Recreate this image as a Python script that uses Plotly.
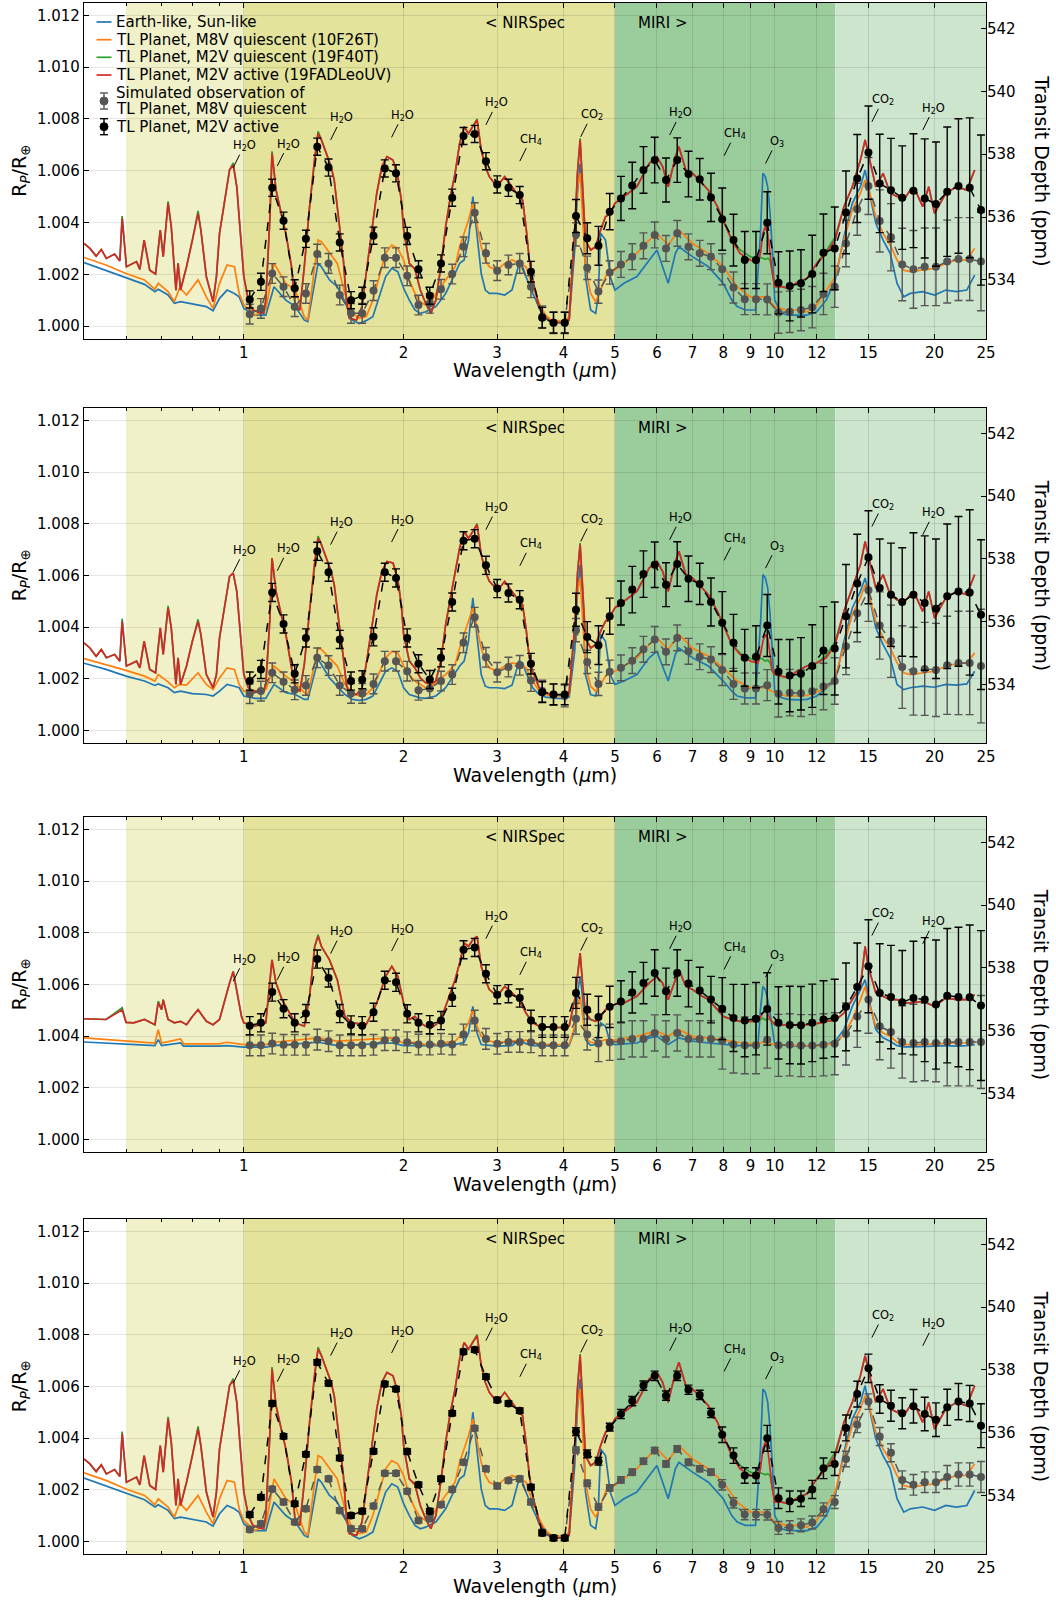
import numpy as np
import plotly.graph_objects as go

# ---------------- observation bins (µm) ----------------
OBS_WL = [1.026, 1.077, 1.131, 1.188, 1.247, 1.309, 1.375, 1.444, 1.516, 1.592,
          1.671, 1.755, 1.843, 1.935, 2.031, 2.133, 2.240, 2.352, 2.469, 2.593,
          2.722, 2.858, 3.001, 3.151, 3.309, 3.474, 3.648, 3.831, 4.022, 4.223,
          4.434, 4.656, 4.889, 5.133, 5.390, 5.659, 5.942, 6.240, 6.551, 6.879,
          7.223, 7.584, 7.963, 8.362, 8.780, 9.219, 9.680, 10.164, 10.672, 11.205,
          11.766, 12.354, 12.972, 13.620, 14.301, 15.016, 15.767, 16.555, 17.383, 18.252,
          19.165, 20.123, 21.129, 22.186, 23.295, 24.460]

# ---------------- model spectra: clear case (panels 1 and 4) ----------------
WL_RED_A = [0.500, 0.513, 0.527, 0.539, 0.551, 0.571, 0.584, 0.590, 0.601, 0.628,
            0.637, 0.649, 0.665, 0.682, 0.696, 0.705, 0.720, 0.730, 0.745, 0.752,
            0.760, 0.780, 0.800, 0.820, 0.830, 0.850, 0.875, 0.888, 0.900, 0.920,
            0.940, 0.955, 0.970, 0.983, 1.000, 1.020, 1.040, 1.070, 1.090, 1.100,
            1.120, 1.130, 1.150, 1.180, 1.200, 1.230, 1.250, 1.275, 1.300, 1.330,
            1.360, 1.380, 1.400, 1.430, 1.460, 1.480, 1.500, 1.540, 1.560, 1.580,
            1.630, 1.670, 1.700, 1.740, 1.780, 1.820, 1.860, 1.910, 1.950, 1.980,
            2.000, 2.050, 2.100, 2.150, 2.200, 2.250, 2.300, 2.350, 2.400, 2.450,
            2.500, 2.550, 2.600, 2.650, 2.700, 2.750, 2.800, 2.850, 2.900, 3.000,
            3.050, 3.100, 3.200, 3.300, 3.350, 3.400, 3.450, 3.500, 3.600, 3.700,
            3.800, 3.900, 4.000, 4.100, 4.200, 4.250, 4.300, 4.350, 4.400, 4.500,
            4.600, 4.700, 4.800, 4.900, 5.000, 5.200, 5.500, 5.800, 6.000, 6.150,
            6.300, 6.500, 6.600, 6.800, 7.000, 7.300, 7.500, 7.800, 8.000, 8.300,
            8.600, 9.000, 9.300, 9.400, 9.500, 9.600, 9.700, 9.800, 9.900, 10.0,
            10.3, 10.6, 11.0, 11.5, 12.0, 12.5, 13.0, 13.5, 14.0, 14.5,
            14.8, 15.0, 15.5, 16.0, 16.5, 17.0, 17.5, 18.0, 18.5, 19.0,
            19.5, 20.0, 21.0, 22.0, 23.0, 23.8]

RED_A = [1.00319, 1.00300, 1.00270, 1.00296, 1.00261, 1.00278, 1.00251, 1.00416, 1.00229, 1.00249,
         1.00219, 1.00332, 1.00216, 1.00201, 1.00371, 1.00268, 1.00474, 1.00384, 1.00139, 1.00242,
         1.00139, 1.00229, 1.00332, 1.00435, 1.00371, 1.00191, 1.00094, 1.00191, 1.00358, 1.00487,
         1.00603, 1.00622, 1.00538, 1.00384, 1.00191, 1.00100, 1.00062, 1.00052, 1.00049, 1.00100,
         1.00422, 1.00667, 1.00525, 1.00422, 1.00358, 1.00229, 1.00075, 1.00062, 1.00229, 1.00461,
         1.00654, 1.00744, 1.00719, 1.00667, 1.00616, 1.00564, 1.00461, 1.00255, 1.00100, 1.00030,
         1.00023, 1.00075, 1.00203, 1.00358, 1.00513, 1.00616, 1.00654, 1.00641, 1.00577, 1.00487,
         1.00372, 1.00242, 1.00220, 1.00139, 1.00088, 1.00049, 1.00100, 1.00229, 1.00384, 1.00500,
         1.00590, 1.00706, 1.00770, 1.00744, 1.00770, 1.00796, 1.00680, 1.00616, 1.00577, 1.00538,
         1.00558, 1.00577, 1.00538, 1.00500, 1.00487, 1.00384, 1.00255, 1.00178, 1.00075, 1.00030,
         1.00017, 1.00013, 1.00013, 1.00023, 1.00371, 1.00590, 1.00719, 1.00538, 1.00332, 1.00294,
         1.00306, 1.00371, 1.00422, 1.00435, 1.00474, 1.00500, 1.00538, 1.00628, 1.00654, 1.00616,
         1.00538, 1.00654, 1.00693, 1.00603, 1.00590, 1.00551, 1.00525, 1.00461, 1.00410, 1.00332,
         1.00281, 1.00255, 1.00242, 1.00281, 1.00358, 1.00384, 1.00358, 1.00281, 1.00203, 1.00152,
         1.00152, 1.00146, 1.00167, 1.00184, 1.00242, 1.00281, 1.00332, 1.00461, 1.00538, 1.00641,
         1.00719, 1.00667, 1.00538, 1.00590, 1.00513, 1.00500, 1.00487, 1.00525, 1.00513, 1.00461,
         1.00538, 1.00435, 1.00513, 1.00538, 1.00525, 1.00603]

GREEN_A = [1.00319, 1.00300, 1.00270, 1.00296, 1.00261, 1.00278, 1.00251, 1.00425, 1.00229, 1.00249,
           1.00219, 1.00332, 1.00216, 1.00201, 1.00371, 1.00268, 1.00482, 1.00384, 1.00139, 1.00242,
           1.00139, 1.00229, 1.00332, 1.00445, 1.00371, 1.00191, 1.00094, 1.00191, 1.00358, 1.00487,
           1.00603, 1.00630, 1.00538, 1.00384, 1.00191, 1.00100, 1.00062, 1.00052, 1.00049, 1.00100,
           1.00422, 1.00675, 1.00525, 1.00422, 1.00358, 1.00229, 1.00075, 1.00062, 1.00229, 1.00461,
           1.00654, 1.00752, 1.00719, 1.00667, 1.00616, 1.00564, 1.00461, 1.00255, 1.00100, 1.00030,
           1.00023, 1.00075, 1.00203, 1.00358, 1.00513, 1.00616, 1.00654, 1.00641, 1.00577, 1.00487,
           1.00372, 1.00242, 1.00220, 1.00139, 1.00088, 1.00049, 1.00100, 1.00229, 1.00384, 1.00500,
           1.00590, 1.00706, 1.00770, 1.00744, 1.00770, 1.00800, 1.00680, 1.00616, 1.00577, 1.00538,
           1.00558, 1.00577, 1.00538, 1.00500, 1.00487, 1.00384, 1.00255, 1.00178, 1.00075, 1.00030,
           1.00017, 1.00013, 1.00013, 1.00023, 1.00371, 1.00590, 1.00725, 1.00538, 1.00332, 1.00294,
           1.00306, 1.00371, 1.00422, 1.00435, 1.00474, 1.00500, 1.00538, 1.00628, 1.00654, 1.00616,
           1.00538, 1.00654, 1.00693, 1.00603, 1.00590, 1.00551, 1.00525, 1.00461, 1.00410, 1.00332,
           1.00295, 1.00268, 1.00258, 1.00265, 1.00262, 1.00258, 1.00262, 1.00255, 1.00203, 1.00152,
           1.00152, 1.00146, 1.00167, 1.00184, 1.00242, 1.00290, 1.00345, 1.00461, 1.00538, 1.00641,
           1.00719, 1.00667, 1.00538, 1.00590, 1.00513, 1.00500, 1.00487, 1.00525, 1.00513, 1.00461,
           1.00538, 1.00435, 1.00513, 1.00538, 1.00525, 1.00603]

WL_ORANGE_A = [0.500, 0.550, 0.600, 0.650, 0.680, 0.690, 0.720, 0.740, 0.757, 0.780,
               0.820, 0.850, 0.875, 0.900, 0.930, 0.960, 0.980, 1.000, 1.050, 1.100,
               1.140, 1.200, 1.250, 1.300, 1.320, 1.380, 1.400, 1.450, 1.500, 1.550,
               1.600, 1.650, 1.700, 1.750, 1.850, 1.900, 1.950, 2.000, 2.050, 2.100,
               2.150, 2.200, 2.250, 2.300, 2.350, 2.400, 2.450, 2.500, 2.550, 2.600,
               2.650, 2.700, 2.750, 2.800, 2.850, 2.900, 3.000, 3.100, 3.200, 3.300,
               3.400, 3.500, 3.600, 3.700, 3.800, 3.900, 4.000, 4.100, 4.200, 4.250,
               4.300, 4.350, 4.400, 4.500, 4.600, 4.700, 4.800, 4.900, 5.000, 5.200,
               5.500, 5.800, 6.000, 6.300, 6.600, 7.000, 7.500, 8.000, 8.500, 9.000,
               9.600, 10.0, 10.5, 11.0, 11.5, 12.0, 12.5, 13.0, 13.5, 14.0,
               14.5, 14.8, 15.0, 15.5, 16.0, 16.5, 17.0, 17.5, 18.0, 19.0,
               20.0, 21.0, 22.0, 23.0, 23.8]

ORANGE_A = [1.00265, 1.00236, 1.00203, 1.00178, 1.00142, 1.00165, 1.00133, 1.00094, 1.00149, 1.00120,
            1.00178, 1.00113, 1.00068, 1.00165, 1.00236, 1.00229, 1.00126, 1.00081, 1.00042, 1.00062,
            1.00242, 1.00165, 1.00139, 1.00036, 1.00023, 1.00332, 1.00326, 1.00281, 1.00242, 1.00126,
            1.00049, 1.00030, 1.00036, 1.00100, 1.00281, 1.00313, 1.00300, 1.00255, 1.00178, 1.00126,
            1.00094, 1.00081, 1.00088, 1.00126, 1.00152, 1.00178, 1.00203, 1.00229, 1.00306, 1.00358,
            1.00410, 1.00474, 1.00384, 1.00306, 1.00255, 1.00229, 1.00216, 1.00242, 1.00255, 1.00242,
            1.00229, 1.00152, 1.00088, 1.00042, 1.00023, 1.00021, 1.00017, 1.00036, 1.00384, 1.00538,
            1.00590, 1.00422, 1.00229, 1.00126, 1.00094, 1.00139, 1.00191, 1.00210, 1.00216, 1.00242,
            1.00281, 1.00332, 1.00358, 1.00313, 1.00371, 1.00319, 1.00281, 1.00229, 1.00152, 1.00113,
            1.00113, 1.00075, 1.00062, 1.00062, 1.00055, 1.00081, 1.00139, 1.00191, 1.00332, 1.00448,
            1.00513, 1.00564, 1.00538, 1.00422, 1.00358, 1.00313, 1.00255, 1.00216, 1.00210, 1.00216,
            1.00223, 1.00242, 1.00255, 1.00255, 1.00300]

WL_BLUE_A = [0.500, 0.550, 0.600, 0.650, 0.680, 0.690, 0.720, 0.740, 0.760, 0.800,
             0.850, 0.875, 0.900, 0.930, 0.960, 0.980, 1.000, 1.050, 1.100, 1.140,
             1.200, 1.250, 1.300, 1.320, 1.380, 1.400, 1.450, 1.500, 1.550, 1.600,
             1.650, 1.700, 1.750, 1.850, 1.900, 1.950, 2.000, 2.050, 2.100, 2.150,
             2.200, 2.300, 2.400, 2.500, 2.550, 2.600, 2.650, 2.700, 2.750, 2.800,
             2.850, 2.900, 3.000, 3.100, 3.200, 3.300, 3.350, 3.400, 3.500, 3.600,
             3.700, 3.800, 3.900, 4.000, 4.100, 4.200, 4.250, 4.300, 4.350, 4.400,
             4.500, 4.600, 4.650, 4.700, 4.800, 4.900, 5.000, 5.200, 5.500, 5.800,
             6.000, 6.300, 6.500, 6.600, 7.000, 7.500, 8.000, 8.300, 8.500, 8.800,
             9.200, 9.400, 9.500, 9.600, 9.700, 9.800, 9.900, 10.0, 10.3, 10.6,
             11.0, 11.5, 12.0, 12.5, 13.0, 13.5, 14.0, 14.5, 14.8, 15.0,
             15.5, 16.0, 16.5, 17.0, 17.5, 18.0, 19.0, 20.0, 21.0, 22.0,
             23.0, 23.8]

BLUE_A = [1.00245, 1.00214, 1.00184, 1.00161, 1.00133, 1.00142, 1.00120, 1.00088, 1.00094, 1.00085,
          1.00075, 1.00059, 1.00107, 1.00139, 1.00126, 1.00113, 1.00068, 1.00042, 1.00042, 1.00152,
          1.00100, 1.00075, 1.00023, 1.00017, 1.00242, 1.00229, 1.00178, 1.00152, 1.00094, 1.00023,
          1.00010, 1.00021, 1.00036, 1.00191, 1.00223, 1.00210, 1.00146, 1.00100, 1.00062, 1.00049,
          1.00055, 1.00075, 1.00126, 1.00203, 1.00242, 1.00255, 1.00332, 1.00500, 1.00358, 1.00203,
          1.00139, 1.00126, 1.00126, 1.00120, 1.00139, 1.00242, 1.00229, 1.00191, 1.00126, 1.00075,
          1.00036, 1.00021, 1.00015, 1.00013, 1.00023, 1.00294, 1.00513, 1.00628, 1.00487, 1.00191,
          1.00062, 1.00049, 1.00113, 1.00358, 1.00332, 1.00191, 1.00139, 1.00165, 1.00191, 1.00255,
          1.00294, 1.00165, 1.00281, 1.00306, 1.00268, 1.00229, 1.00165, 1.00100, 1.00075, 1.00062,
          1.00062, 1.00358, 1.00590, 1.00577, 1.00538, 1.00435, 1.00294, 1.00100, 1.00049, 1.00042,
          1.00041, 1.00042, 1.00055, 1.00100, 1.00178, 1.00345, 1.00474, 1.00538, 1.00603, 1.00538,
          1.00397, 1.00332, 1.00281, 1.00165, 1.00113, 1.00126, 1.00133, 1.00120, 1.00139, 1.00133,
          1.00139, 1.00197]

# ---------------- model spectra: panel 2 ----------------
RED_B = [1.00339, 1.00319, 1.00287, 1.00313, 1.00281, 1.00294, 1.00268, 1.00422, 1.00249, 1.00268,
         1.00242, 1.00345, 1.00236, 1.00223, 1.00397, 1.00294, 1.00474, 1.00397, 1.00178, 1.00281,
         1.00178, 1.00249, 1.00345, 1.00422, 1.00371, 1.00216, 1.00165, 1.00216, 1.00358, 1.00474,
         1.00596, 1.00609, 1.00538, 1.00397, 1.00216, 1.00165, 1.00152, 1.00152, 1.00152, 1.00178,
         1.00435, 1.00667, 1.00538, 1.00435, 1.00371, 1.00242, 1.00165, 1.00152, 1.00255, 1.00461,
         1.00654, 1.00744, 1.00719, 1.00667, 1.00616, 1.00564, 1.00474, 1.00281, 1.00178, 1.00139,
         1.00139, 1.00165, 1.00255, 1.00384, 1.00525, 1.00616, 1.00654, 1.00648, 1.00583, 1.00487,
         1.00371, 1.00268, 1.00242, 1.00203, 1.00184, 1.00178, 1.00191, 1.00268, 1.00410, 1.00513,
         1.00603, 1.00706, 1.00770, 1.00744, 1.00770, 1.00796, 1.00680, 1.00616, 1.00577, 1.00545,
         1.00558, 1.00577, 1.00538, 1.00500, 1.00487, 1.00397, 1.00281, 1.00229, 1.00165, 1.00146,
         1.00139, 1.00137, 1.00139, 1.00146, 1.00397, 1.00603, 1.00719, 1.00551, 1.00358, 1.00319,
         1.00332, 1.00384, 1.00422, 1.00442, 1.00474, 1.00500, 1.00538, 1.00628, 1.00654, 1.00616,
         1.00538, 1.00654, 1.00693, 1.00603, 1.00590, 1.00551, 1.00525, 1.00461, 1.00410, 1.00332,
         1.00294, 1.00268, 1.00261, 1.00294, 1.00345, 1.00371, 1.00358, 1.00281, 1.00229, 1.00216,
         1.00210, 1.00203, 1.00229, 1.00249, 1.00261, 1.00281, 1.00332, 1.00461, 1.00551, 1.00641,
         1.00731, 1.00680, 1.00551, 1.00603, 1.00525, 1.00506, 1.00493, 1.00525, 1.00513, 1.00461,
         1.00538, 1.00435, 1.00513, 1.00538, 1.00525, 1.00603]

GREEN_B = [1.00339, 1.00319, 1.00287, 1.00313, 1.00281, 1.00294, 1.00268, 1.00432, 1.00249, 1.00268,
           1.00242, 1.00345, 1.00236, 1.00223, 1.00397, 1.00294, 1.00482, 1.00397, 1.00178, 1.00281,
           1.00178, 1.00249, 1.00345, 1.00430, 1.00371, 1.00216, 1.00165, 1.00216, 1.00358, 1.00474,
           1.00596, 1.00609, 1.00538, 1.00397, 1.00216, 1.00165, 1.00152, 1.00152, 1.00152, 1.00178,
           1.00435, 1.00667, 1.00538, 1.00435, 1.00371, 1.00242, 1.00165, 1.00152, 1.00255, 1.00461,
           1.00654, 1.00752, 1.00719, 1.00667, 1.00616, 1.00564, 1.00474, 1.00281, 1.00178, 1.00139,
           1.00139, 1.00165, 1.00255, 1.00384, 1.00525, 1.00616, 1.00654, 1.00648, 1.00583, 1.00487,
           1.00371, 1.00268, 1.00242, 1.00203, 1.00184, 1.00178, 1.00191, 1.00268, 1.00410, 1.00513,
           1.00603, 1.00706, 1.00770, 1.00744, 1.00770, 1.00800, 1.00680, 1.00616, 1.00577, 1.00545,
           1.00558, 1.00577, 1.00538, 1.00500, 1.00487, 1.00397, 1.00281, 1.00229, 1.00165, 1.00146,
           1.00139, 1.00137, 1.00139, 1.00146, 1.00397, 1.00603, 1.00725, 1.00551, 1.00358, 1.00319,
           1.00332, 1.00384, 1.00422, 1.00442, 1.00474, 1.00500, 1.00538, 1.00628, 1.00654, 1.00616,
           1.00538, 1.00654, 1.00693, 1.00603, 1.00590, 1.00551, 1.00525, 1.00461, 1.00410, 1.00332,
           1.00300, 1.00278, 1.00270, 1.00280, 1.00275, 1.00268, 1.00272, 1.00262, 1.00229, 1.00216,
           1.00210, 1.00203, 1.00229, 1.00249, 1.00261, 1.00290, 1.00345, 1.00461, 1.00551, 1.00641,
           1.00731, 1.00680, 1.00551, 1.00603, 1.00525, 1.00506, 1.00493, 1.00525, 1.00513, 1.00461,
           1.00538, 1.00435, 1.00513, 1.00538, 1.00525, 1.00603]

ORANGE_B = [1.00278, 1.00255, 1.00232, 1.00210, 1.00191, 1.00216, 1.00188, 1.00165, 1.00178, 1.00175,
            1.00223, 1.00178, 1.00158, 1.00203, 1.00242, 1.00236, 1.00178, 1.00152, 1.00146, 1.00158,
            1.00249, 1.00210, 1.00184, 1.00146, 1.00139, 1.00319, 1.00313, 1.00281, 1.00249, 1.00178,
            1.00146, 1.00133, 1.00139, 1.00165, 1.00281, 1.00306, 1.00300, 1.00249, 1.00216, 1.00191,
            1.00178, 1.00165, 1.00165, 1.00184, 1.00203, 1.00216, 1.00236, 1.00255, 1.00319, 1.00371,
            1.00422, 1.00474, 1.00397, 1.00319, 1.00268, 1.00242, 1.00229, 1.00249, 1.00261, 1.00255,
            1.00242, 1.00191, 1.00152, 1.00139, 1.00133, 1.00133, 1.00133, 1.00139, 1.00397, 1.00538,
            1.00590, 1.00435, 1.00255, 1.00171, 1.00152, 1.00178, 1.00210, 1.00223, 1.00229, 1.00249,
            1.00281, 1.00332, 1.00358, 1.00313, 1.00371, 1.00319, 1.00287, 1.00242, 1.00191, 1.00165,
            1.00165, 1.00146, 1.00133, 1.00133, 1.00135, 1.00149, 1.00165, 1.00203, 1.00332, 1.00448,
            1.00513, 1.00564, 1.00538, 1.00422, 1.00358, 1.00319, 1.00261, 1.00223, 1.00216, 1.00223,
            1.00229, 1.00249, 1.00258, 1.00261, 1.00300]

BLUE_B = [1.00260, 1.00236, 1.00210, 1.00191, 1.00174, 1.00180, 1.00165, 1.00146, 1.00152, 1.00142,
          1.00139, 1.00133, 1.00152, 1.00178, 1.00171, 1.00165, 1.00133, 1.00124, 1.00124, 1.00178,
          1.00146, 1.00139, 1.00120, 1.00120, 1.00274, 1.00255, 1.00203, 1.00171, 1.00139, 1.00120,
          1.00116, 1.00120, 1.00133, 1.00229, 1.00242, 1.00229, 1.00165, 1.00139, 1.00133, 1.00126,
          1.00124, 1.00133, 1.00165, 1.00223, 1.00249, 1.00268, 1.00345, 1.00513, 1.00371, 1.00216,
          1.00171, 1.00165, 1.00165, 1.00162, 1.00175, 1.00268, 1.00261, 1.00223, 1.00165, 1.00139,
          1.00129, 1.00126, 1.00124, 1.00124, 1.00129, 1.00306, 1.00525, 1.00641, 1.00500, 1.00216,
          1.00139, 1.00133, 1.00178, 1.00371, 1.00345, 1.00216, 1.00178, 1.00191, 1.00216, 1.00281,
          1.00306, 1.00191, 1.00294, 1.00319, 1.00281, 1.00249, 1.00191, 1.00152, 1.00133, 1.00126,
          1.00126, 1.00410, 1.00603, 1.00590, 1.00551, 1.00448, 1.00319, 1.00152, 1.00126, 1.00120,
          1.00118, 1.00120, 1.00133, 1.00165, 1.00191, 1.00345, 1.00474, 1.00538, 1.00590, 1.00538,
          1.00397, 1.00332, 1.00281, 1.00178, 1.00158, 1.00165, 1.00171, 1.00167, 1.00178, 1.00175,
          1.00180, 1.00229]

# ---------------- model spectra: panel 3 ----------------
WL_RED_C = [0.500, 0.550, 0.590, 0.600, 0.620, 0.650, 0.680, 0.690, 0.700, 0.705,
            0.720, 0.740, 0.760, 0.780, 0.800, 0.820, 0.850, 0.875, 0.900, 0.920,
            0.940, 0.955, 0.970, 0.990, 1.000, 1.050, 1.100, 1.130, 1.150, 1.180,
            1.200, 1.250, 1.300, 1.330, 1.360, 1.380, 1.400, 1.450, 1.500, 1.550,
            1.600, 1.700, 1.780, 1.850, 1.900, 1.950, 2.000, 2.050, 2.100, 2.150,
            2.200, 2.250, 2.300, 2.350, 2.400, 2.450, 2.500, 2.550, 2.600, 2.650,
            2.700, 2.750, 2.800, 2.850, 2.900, 3.000, 3.050, 3.100, 3.200, 3.300,
            3.400, 3.500, 3.600, 3.700, 3.800, 4.000, 4.100, 4.200, 4.250, 4.300,
            4.350, 4.400, 4.500, 4.600, 4.700, 4.800, 4.900, 5.000, 5.200, 5.500,
            5.800, 6.000, 6.150, 6.300, 6.500, 6.600, 6.800, 7.000, 7.300, 7.500,
            7.800, 8.000, 8.300, 8.600, 9.000, 9.300, 9.500, 9.600, 9.700, 9.800,
            10.0, 10.5, 11.0, 11.5, 12.0, 12.5, 13.0, 13.5, 14.0, 14.5,
            14.8, 15.0, 15.5, 16.0, 16.5, 17.0, 17.5, 18.0, 19.0, 20.0,
            21.0, 22.0, 23.0, 23.8]

RED_C = [1.00467, 1.00464, 1.00502, 1.00453, 1.00451, 1.00464, 1.00444, 1.00528, 1.00502, 1.00541,
         1.00464, 1.00451, 1.00457, 1.00444, 1.00476, 1.00502, 1.00457, 1.00444, 1.00464, 1.00541,
         1.00605, 1.00650, 1.00580, 1.00476, 1.00451, 1.00438, 1.00451, 1.00695, 1.00605, 1.00541,
         1.00515, 1.00451, 1.00438, 1.00554, 1.00747, 1.00786, 1.00747, 1.00695, 1.00618, 1.00476,
         1.00451, 1.00444, 1.00528, 1.00631, 1.00670, 1.00631, 1.00528, 1.00464, 1.00476, 1.00451,
         1.00438, 1.00431, 1.00444, 1.00464, 1.00515, 1.00567, 1.00618, 1.00683, 1.00760, 1.00747,
         1.00773, 1.00786, 1.00670, 1.00618, 1.00580, 1.00554, 1.00573, 1.00592, 1.00567, 1.00541,
         1.00489, 1.00451, 1.00438, 1.00434, 1.00433, 1.00433, 1.00438, 1.00541, 1.00644, 1.00721,
         1.00592, 1.00489, 1.00464, 1.00457, 1.00476, 1.00502, 1.00515, 1.00522, 1.00528, 1.00554,
         1.00605, 1.00631, 1.00605, 1.00541, 1.00618, 1.00657, 1.00592, 1.00580, 1.00554, 1.00541,
         1.00502, 1.00476, 1.00464, 1.00457, 1.00457, 1.00457, 1.00489, 1.00502, 1.00489, 1.00464,
         1.00444, 1.00442, 1.00443, 1.00444, 1.00448, 1.00457, 1.00461, 1.00489, 1.00541, 1.00592,
         1.00747, 1.00670, 1.00567, 1.00554, 1.00541, 1.00541, 1.00528, 1.00528, 1.00534, 1.00515,
         1.00547, 1.00541, 1.00541, 1.00560]

GREEN_C = [1.00467, 1.00464, 1.00510, 1.00453, 1.00451, 1.00464, 1.00444, 1.00535, 1.00502, 1.00541,
           1.00464, 1.00451, 1.00457, 1.00444, 1.00476, 1.00502, 1.00457, 1.00444, 1.00464, 1.00541,
           1.00605, 1.00650, 1.00580, 1.00476, 1.00451, 1.00438, 1.00451, 1.00695, 1.00605, 1.00541,
           1.00515, 1.00451, 1.00438, 1.00554, 1.00747, 1.00792, 1.00747, 1.00695, 1.00618, 1.00476,
           1.00451, 1.00444, 1.00528, 1.00631, 1.00670, 1.00631, 1.00528, 1.00464, 1.00476, 1.00451,
           1.00438, 1.00431, 1.00444, 1.00464, 1.00515, 1.00567, 1.00618, 1.00683, 1.00760, 1.00747,
           1.00773, 1.00786, 1.00670, 1.00618, 1.00580, 1.00554, 1.00573, 1.00592, 1.00567, 1.00541,
           1.00489, 1.00451, 1.00438, 1.00434, 1.00433, 1.00433, 1.00438, 1.00541, 1.00644, 1.00721,
           1.00592, 1.00489, 1.00464, 1.00457, 1.00476, 1.00502, 1.00515, 1.00522, 1.00528, 1.00554,
           1.00605, 1.00631, 1.00605, 1.00541, 1.00618, 1.00657, 1.00592, 1.00580, 1.00554, 1.00541,
           1.00502, 1.00476, 1.00464, 1.00457, 1.00457, 1.00457, 1.00470, 1.00462, 1.00466, 1.00464,
           1.00444, 1.00442, 1.00443, 1.00444, 1.00448, 1.00457, 1.00461, 1.00489, 1.00541, 1.00592,
           1.00747, 1.00670, 1.00567, 1.00554, 1.00541, 1.00541, 1.00528, 1.00528, 1.00534, 1.00515,
           1.00547, 1.00541, 1.00541, 1.00560]

WL_ORANGE_C = [0.500, 0.600, 0.680, 0.690, 0.700, 0.760, 0.770, 0.900, 0.930, 1.000,
               1.100, 1.140, 1.380, 1.500, 1.900, 2.000, 2.100, 2.200, 2.300, 2.400,
               2.500, 2.550, 2.600, 2.650, 2.700, 2.750, 2.800, 2.900, 3.000, 3.200,
               3.400, 3.500, 3.600, 3.800, 4.000, 4.100, 4.200, 4.250, 4.300, 4.350,
               4.400, 4.500, 4.600, 4.700, 4.800, 5.000, 5.500, 5.800, 6.000, 6.300,
               6.600, 7.000, 7.500, 8.000, 8.500, 9.000, 9.600, 10.0, 11.0, 12.0,
               12.5, 13.0, 13.5, 14.0, 14.5, 14.8, 15.0, 15.5, 16.0, 16.5,
               17.0, 17.5, 18.0, 19.0, 20.0, 21.0, 22.0, 23.0, 23.8]

ORANGE_C = [1.00393, 1.00380, 1.00373, 1.00425, 1.00373, 1.00389, 1.00370, 1.00370, 1.00376, 1.00367,
            1.00367, 1.00376, 1.00393, 1.00380, 1.00393, 1.00373, 1.00376, 1.00367, 1.00367, 1.00376,
            1.00380, 1.00399, 1.00425, 1.00451, 1.00502, 1.00438, 1.00399, 1.00380, 1.00376, 1.00380,
            1.00384, 1.00376, 1.00370, 1.00366, 1.00366, 1.00367, 1.00438, 1.00515, 1.00554, 1.00476,
            1.00393, 1.00376, 1.00373, 1.00380, 1.00386, 1.00384, 1.00399, 1.00412, 1.00419, 1.00399,
            1.00425, 1.00399, 1.00393, 1.00386, 1.00376, 1.00371, 1.00376, 1.00367, 1.00364, 1.00363,
            1.00367, 1.00373, 1.00406, 1.00464, 1.00541, 1.00592, 1.00541, 1.00438, 1.00412, 1.00399,
            1.00376, 1.00367, 1.00367, 1.00367, 1.00370, 1.00373, 1.00373, 1.00373, 1.00380]

WL_BLUE_C = [0.500, 0.600, 0.680, 0.690, 0.700, 0.760, 0.770, 0.900, 0.930, 1.000,
             1.100, 1.140, 1.380, 1.500, 1.900, 2.000, 2.200, 2.400, 2.500, 2.600,
             2.650, 2.700, 2.750, 2.800, 3.000, 3.200, 3.300, 3.400, 3.500, 3.800,
             4.000, 4.100, 4.200, 4.250, 4.300, 4.350, 4.400, 4.500, 4.600, 4.700,
             4.800, 4.900, 5.000, 5.500, 5.800, 6.000, 6.300, 6.600, 7.000, 7.500,
             8.000, 8.500, 9.000, 9.300, 9.400, 9.500, 9.600, 9.700, 9.800, 9.900,
             10.0, 11.0, 12.0, 12.5, 13.0, 13.5, 14.0, 14.5, 14.8, 15.0,
             15.5, 16.0, 16.5, 17.0, 17.5, 18.0, 19.0, 20.0, 21.0, 22.0,
             23.0, 23.8]

BLUE_C = [1.00377, 1.00367, 1.00363, 1.00386, 1.00363, 1.00373, 1.00361, 1.00361, 1.00363, 1.00357,
          1.00357, 1.00363, 1.00376, 1.00363, 1.00373, 1.00363, 1.00363, 1.00363, 1.00367, 1.00376,
          1.00412, 1.00515, 1.00412, 1.00367, 1.00361, 1.00363, 1.00386, 1.00370, 1.00363, 1.00361,
          1.00361, 1.00363, 1.00425, 1.00567, 1.00631, 1.00541, 1.00386, 1.00364, 1.00367, 1.00451,
          1.00438, 1.00373, 1.00367, 1.00373, 1.00393, 1.00399, 1.00367, 1.00393, 1.00380, 1.00373,
          1.00367, 1.00363, 1.00363, 1.00367, 1.00502, 1.00592, 1.00580, 1.00541, 1.00489, 1.00425,
          1.00367, 1.00361, 1.00363, 1.00367, 1.00380, 1.00425, 1.00515, 1.00580, 1.00618, 1.00554,
          1.00425, 1.00393, 1.00380, 1.00363, 1.00358, 1.00358, 1.00361, 1.00361, 1.00363, 1.00361,
          1.00363, 1.00367]

# ---------------- simulated observations ----------------
BLACK_A = [1.00103, 1.00171, 1.00534, 1.00407, 1.00146, 1.00337, 1.00693, 1.00612, 1.00323, 1.00100,
           1.00117, 1.00349, 1.00609, 1.00590, 1.00348, 1.00219, 1.00117, 1.00242, 1.00496, 1.00734,
           1.00742, 1.00637, 1.00547, 1.00534, 1.00506, 1.00210, 1.00032, 1.00013, 1.00013, 1.00425,
           1.00339, 1.00310, 1.00442, 1.00493, 1.00543, 1.00603, 1.00641, 1.00564, 1.00641, 1.00587,
           1.00567, 1.00497, 1.00413, 1.00332, 1.00255, 1.00255, 1.00399, 1.00167, 1.00155, 1.00165,
           1.00201, 1.00283, 1.00300, 1.00439, 1.00570, 1.00670, 1.00551, 1.00525, 1.00496, 1.00523,
           1.00493, 1.00471, 1.00519, 1.00541, 1.00534, 1.00448]
GRAY_A = [1.00046, 1.00068, 1.00203, 1.00152, 1.00075, 1.00126, 1.00278, 1.00242, 1.00120, 1.00049,
          1.00049, 1.00137, 1.00264, 1.00264, 1.00194, 1.00081, 1.00088, 1.00142, 1.00201, 1.00306,
          1.00438, 1.00281, 1.00214, 1.00236, 1.00242, 1.00152, 1.00036, 1.00013, 1.00013, 1.00354,
          1.00225, 1.00133, 1.00207, 1.00238, 1.00268, 1.00310, 1.00352, 1.00300, 1.00358, 1.00306,
          1.00281, 1.00268, 1.00219, 1.00149, 1.00104, 1.00104, 1.00103, 1.00052, 1.00055, 1.00062,
          1.00073, 1.00124, 1.00152, 1.00319, 1.00451, 1.00541, 1.00406, 1.00343, 1.00238, 1.00219,
          1.00229, 1.00229, 1.00249, 1.00259, 1.00259, 1.00249]
BLACK_B = [1.00191, 1.00236, 1.00534, 1.00412, 1.00219, 1.00358, 1.00693, 1.00612, 1.00352, 1.00191,
           1.00196, 1.00362, 1.00612, 1.00590, 1.00358, 1.00258, 1.00197, 1.00281, 1.00497, 1.00734,
           1.00742, 1.00639, 1.00549, 1.00532, 1.00506, 1.00258, 1.00148, 1.00139, 1.00139, 1.00467,
           1.00361, 1.00330, 1.00442, 1.00493, 1.00545, 1.00605, 1.00641, 1.00564, 1.00644, 1.00587,
           1.00567, 1.00497, 1.00417, 1.00339, 1.00281, 1.00285, 1.00406, 1.00227, 1.00212, 1.00219,
           1.00249, 1.00309, 1.00317, 1.00442, 1.00569, 1.00670, 1.00551, 1.00525, 1.00497, 1.00525,
           1.00493, 1.00471, 1.00519, 1.00538, 1.00534, 1.00448]
GRAY_B = [1.00142, 1.00152, 1.00223, 1.00188, 1.00157, 1.00174, 1.00281, 1.00251, 1.00174, 1.00143,
          1.00143, 1.00180, 1.00268, 1.00268, 1.00229, 1.00155, 1.00162, 1.00191, 1.00216, 1.00339,
          1.00438, 1.00283, 1.00225, 1.00245, 1.00252, 1.00193, 1.00152, 1.00139, 1.00133, 1.00388,
          1.00265, 1.00180, 1.00227, 1.00242, 1.00270, 1.00314, 1.00352, 1.00304, 1.00358, 1.00306,
          1.00285, 1.00274, 1.00234, 1.00180, 1.00162, 1.00162, 1.00175, 1.00142, 1.00146, 1.00144,
          1.00151, 1.00170, 1.00191, 1.00326, 1.00453, 1.00542, 1.00406, 1.00345, 1.00245, 1.00229,
          1.00238, 1.00234, 1.00252, 1.00261, 1.00261, 1.00249]
BLACK_C = [1.00440, 1.00451, 1.00570, 1.00506, 1.00451, 1.00487, 1.00698, 1.00625, 1.00487, 1.00443,
           1.00440, 1.00492, 1.00616, 1.00608, 1.00486, 1.00451, 1.00444, 1.00460, 1.00550, 1.00734,
           1.00743, 1.00641, 1.00560, 1.00564, 1.00547, 1.00460, 1.00435, 1.00435, 1.00435, 1.00567,
           1.00502, 1.00474, 1.00513, 1.00534, 1.00569, 1.00605, 1.00644, 1.00573, 1.00644, 1.00603,
           1.00576, 1.00541, 1.00506, 1.00470, 1.00460, 1.00467, 1.00505, 1.00451, 1.00443, 1.00442,
           1.00451, 1.00464, 1.00470, 1.00513, 1.00590, 1.00670, 1.00567, 1.00551, 1.00531, 1.00547,
           1.00541, 1.00522, 1.00556, 1.00551, 1.00550, 1.00518]
GRAY_C = [1.00364, 1.00364, 1.00371, 1.00366, 1.00366, 1.00366, 1.00386, 1.00380, 1.00364, 1.00364,
          1.00364, 1.00366, 1.00384, 1.00384, 1.00376, 1.00367, 1.00367, 1.00370, 1.00367, 1.00406,
          1.00460, 1.00389, 1.00370, 1.00377, 1.00377, 1.00376, 1.00364, 1.00364, 1.00364, 1.00467,
          1.00406, 1.00371, 1.00376, 1.00380, 1.00389, 1.00389, 1.00412, 1.00389, 1.00412, 1.00389,
          1.00389, 1.00389, 1.00382, 1.00367, 1.00364, 1.00364, 1.00386, 1.00364, 1.00366, 1.00363,
          1.00363, 1.00366, 1.00370, 1.00408, 1.00476, 1.00541, 1.00438, 1.00416, 1.00377, 1.00373,
          1.00377, 1.00373, 1.00377, 1.00377, 1.00377, 1.00377]

# ---------------- 1-sigma errors ----------------
ERR_BLACK_1 = [0.00033, 0.00033, 0.00033, 0.00033, 0.00033, 0.00033, 0.00033, 0.00033, 0.00033, 0.00033,
               0.00033, 0.00033, 0.00033, 0.00033, 0.00033, 0.00033, 0.00033, 0.00033, 0.00033, 0.00033,
               0.00033, 0.00033, 0.00033, 0.00033, 0.00033, 0.0004, 0.0004, 0.0004, 0.0004, 0.00064,
               0.0006, 0.00075, 0.0007, 0.00085, 0.0009, 0.0009, 0.00088, 0.00085, 0.00086, 0.00088,
               0.0008, 0.00093, 0.0012, 0.001, 0.0011, 0.0011, 0.0012, 0.0012, 0.00135, 0.0013,
               0.0015, 0.0015, 0.0016, 0.0016, 0.0017, 0.0018, 0.0019, 0.002, 0.002, 0.0022,
               0.0023, 0.0024, 0.0025, 0.0026, 0.0027, 0.0029]
ERR_GRAY_1 = [0.00038, 0.00038, 0.00038, 0.00038, 0.00038, 0.00038, 0.00038, 0.00038, 0.00038, 0.00038,
              0.00038, 0.00038, 0.00038, 0.00038, 0.00038, 0.00038, 0.00038, 0.00038, 0.00038, 0.00038,
              0.00038, 0.00038, 0.00038, 0.00038, 0.00038, 0.00042, 0.00042, 0.00042, 0.00042, 0.00045,
              0.00045, 0.00045, 0.00045, 0.0005, 0.0005, 0.0005, 0.0005, 0.0005, 0.0005, 0.0005,
              0.0005, 0.0005, 0.0006, 0.0006, 0.0006, 0.0006, 0.0006, 0.0008, 0.0008, 0.0008,
              0.0008, 0.0008, 0.0008, 0.0009, 0.001, 0.0011, 0.0012, 0.0013, 0.0014, 0.0015,
              0.0015, 0.0015, 0.0016, 0.0016, 0.0016, 0.0019]
ERR_BLACK_2 = [0.00035, 0.00035, 0.00035, 0.00035, 0.00035, 0.00035, 0.00035, 0.00035, 0.00035, 0.00035,
               0.00035, 0.00035, 0.00035, 0.00035, 0.00035, 0.00035, 0.00035, 0.00035, 0.00035, 0.00035,
               0.00035, 0.00035, 0.00035, 0.00035, 0.00035, 0.0004, 0.0004, 0.0004, 0.0004, 0.00064,
               0.0006, 0.00075, 0.0007, 0.00085, 0.0009, 0.0009, 0.00088, 0.00085, 0.00086, 0.00088,
               0.0008, 0.00093, 0.0012, 0.0011, 0.0011, 0.0012, 0.0012, 0.00125, 0.0014, 0.0014,
               0.0016, 0.0017, 0.0018, 0.002, 0.0019, 0.0018, 0.0019, 0.002, 0.0021, 0.0024,
               0.0026, 0.0027, 0.0028, 0.0029, 0.0032, 0.0029]
ERR_GRAY_2 = [0.00038, 0.00038, 0.00038, 0.00038, 0.00038, 0.00038, 0.00038, 0.00038, 0.00038, 0.00038,
              0.00038, 0.00038, 0.00038, 0.00038, 0.00038, 0.00038, 0.00038, 0.00038, 0.00038, 0.00038,
              0.00038, 0.00038, 0.00038, 0.00038, 0.00038, 0.00042, 0.00042, 0.00042, 0.00042, 0.00045,
              0.00045, 0.00045, 0.00045, 0.0005, 0.0005, 0.0005, 0.0005, 0.0005, 0.0005, 0.0005,
              0.0005, 0.0005, 0.0006, 0.0006, 0.0006, 0.0006, 0.0006, 0.0009, 0.0009, 0.0009,
              0.0009, 0.0009, 0.0009, 0.0011, 0.0011, 0.0012, 0.0013, 0.0014, 0.0016, 0.0017,
              0.0018, 0.0018, 0.0019, 0.002, 0.002, 0.0022]
ERR_BLACK_3 = [0.00035, 0.00035, 0.00035, 0.00035, 0.00035, 0.00035, 0.00035, 0.00035, 0.00035, 0.00035,
               0.00035, 0.00035, 0.00035, 0.00035, 0.00035, 0.00035, 0.00035, 0.00035, 0.00035, 0.00035,
               0.00035, 0.00035, 0.00035, 0.00035, 0.00035, 0.0004, 0.0004, 0.0004, 0.0004, 0.0006,
               0.0006, 0.0008, 0.0008, 0.0008, 0.0008, 0.0008, 0.0009, 0.0009, 0.0009, 0.0009,
               0.0009, 0.0009, 0.0012, 0.0013, 0.0014, 0.0014, 0.0014, 0.0014, 0.0015, 0.0015,
               0.0015, 0.0015, 0.0015, 0.0017, 0.0017, 0.0018, 0.0019, 0.002, 0.002, 0.0022,
               0.0024, 0.0025, 0.0026, 0.0027, 0.0028, 0.0029]
ERR_GRAY_3 = [0.0004, 0.0004, 0.0004, 0.0004, 0.0004, 0.0004, 0.0004, 0.0004, 0.0004, 0.0004,
              0.0004, 0.0004, 0.0004, 0.0004, 0.0004, 0.0004, 0.0004, 0.0004, 0.0004, 0.0004,
              0.0004, 0.0004, 0.0004, 0.0004, 0.0004, 0.0004, 0.0004, 0.0004, 0.0004, 0.0006,
              0.0006, 0.0007, 0.0007, 0.0007, 0.0007, 0.0007, 0.0007, 0.0007, 0.0007, 0.0007,
              0.0007, 0.0007, 0.0011, 0.0011, 0.0011, 0.0011, 0.0011, 0.0012, 0.0012, 0.0012,
              0.0012, 0.0012, 0.0012, 0.0012, 0.0012, 0.0013, 0.0013, 0.0014, 0.0014, 0.0015,
              0.0015, 0.0015, 0.0017, 0.0017, 0.0017, 0.0018]
ERR_BLACK_4 = [0.0001, 0.0001, 0.0001, 0.0001, 0.0001, 0.0001, 0.0001, 0.0001, 0.0001, 0.0001,
               0.0001, 0.0001, 0.0001, 0.0001, 0.0001, 0.0001, 0.0001, 0.0001, 0.0001, 0.0001,
               0.0001, 0.0001, 0.0001, 0.0001, 0.0001, 0.0001, 0.0001, 0.0001, 0.0001, 0.00015,
               0.00015, 0.00015, 0.00015, 0.00018, 0.00018, 0.00018, 0.00018, 0.00018, 0.00018, 0.00018,
               0.00018, 0.00018, 0.0003, 0.0003, 0.0003, 0.0003, 0.0005, 0.0004, 0.0004, 0.0003,
               0.00035, 0.0004, 0.00045, 0.0005, 0.0005, 0.00055, 0.00055, 0.0006, 0.0006, 0.00065,
               0.00065, 0.00065, 0.0007, 0.0007, 0.0007, 0.00085]
ERR_GRAY_4 = [0.0001, 0.0001, 0.0001, 0.0001, 0.0001, 0.0001, 0.0001, 0.0001, 0.0001, 0.0001,
              0.0001, 0.0001, 0.0001, 0.0001, 0.0001, 0.0001, 0.0001, 0.0001, 0.0001, 0.0001,
              0.0001, 0.0001, 0.0001, 0.0001, 0.0001, 0.0001, 0.0001, 0.0001, 0.0001, 0.00012,
              0.00012, 0.00012, 0.00012, 0.00012, 0.00012, 0.00012, 0.00012, 0.00012, 0.00012, 0.00012,
              0.00012, 0.00012, 0.0002, 0.0002, 0.0002, 0.0002, 0.0002, 0.00025, 0.00025, 0.00025,
              0.00025, 0.00025, 0.00025, 0.0003, 0.0003, 0.0003, 0.00035, 0.00035, 0.00035, 0.0004,
              0.0004, 0.0004, 0.00045, 0.00045, 0.00045, 0.0006]

# ---------------- labels / ticks ----------------
SERIES_NAMES = ["Earth-like, Sun-like", "TL Planet, M8V quiescent (10F26T)",
                "TL Planet, M2V quiescent (19F40T)", "TL Planet, M2V active (19FADLeoUV)"]
OBS_NAMES = [["Simulated observation of", "TL Planet, M8V quiescent"], ["TL Planet, M2V active"]]
XTICK_VALS = [1, 2, 3, 4, 5, 6, 7, 8, 9, 10, 12, 15, 20, 25]
XTICK_TEXT = ["1", "2", "3", "4", "5", "6", "7", "8", "9", "10", "12", "15", "20", "25"]
XMINOR_VALS = [0.6, 0.7, 0.8, 0.9]
YTICK_VALS = [1.000, 1.002, 1.004, 1.006, 1.008, 1.010, 1.012]
YTICK_TEXT = ["1.000", "1.002", "1.004", "1.006", "1.008", "1.010", "1.012"]
PPM_TICKS = [534, 536, 538, 540, 542]
BANDS = [(0.6, 1.0), (1.0, 5.0), (5.0, 13.0), (13.0, 25.0)]
# molecule labels: (text, wavelength of pointer tip, Rp/R⊕ of pointer tip)
MOLECULES = [("H<sub>2</sub>O", 0.955, 1.00612), ("H<sub>2</sub>O", 1.156, 1.00618),
             ("H<sub>2</sub>O", 1.457, 1.00719), ("H<sub>2</sub>O", 1.898, 1.00729),
             ("H<sub>2</sub>O", 2.857, 1.00777), ("CH<sub>4</sub>", 3.31, 1.00637),
             ("CO<sub>2</sub>", 4.31, 1.00731), ("H<sub>2</sub>O", 6.34, 1.00738),
             ("CH<sub>4</sub>", 8.03, 1.00658), ("O<sub>3</sub>", 9.61, 1.00628),
             ("CO<sub>2</sub>", 15.24, 1.00789), ("H<sub>2</sub>O", 19.0, 1.00757)]
INSTRUMENTS = [("&lt; NIRSpec", 3.38, 1.01169), ("MIRI &gt;", 6.17, 1.01169)]

# ---------------- styling / geometry ----------------
W, H = 1056, 1602
PLOT_L, PLOT_R = 84, 986
PANEL_TOP = [2.7, 407.7, 816.7, 1218.7]
PANEL_BOT = [339.0, 743.3, 1152.3, 1554.3]
X_RANGE = [np.log10(0.5), np.log10(25)]
Y_RANGE = [0.9995, 1.01249]
PPM_RANGE = [532.124, 542.816]
BAND_COLORS = ["#f0f0c9", "#e3e39b", "#9bcc9b", "#cde5cd"]
LINE_COLORS = ["#1f77b4", "#ff7f0e", "#2ca02c", "#d62728"]
GRAY = "#555555"
GRID = "rgba(0,0,0,0.10)"
FONT = "DejaVu Sans"
# legend geometry (figure pixels)
LEG_LINE_X = (96.5, 111.5)
LEG_TEXT_X = 113.5
LEG_LINE_ROWS = [22.0, 39.7, 57.3, 75.0]
LEG_OBS_TEXT_ROWS = [[92.7, 109.3], [126.7]]
LEG_OBS_MARK_Y = [101.0, 126.7]
LEG_MARK_X = 104.0

PANELS = [
    dict(spec=[(WL_BLUE_A, BLUE_A), (WL_ORANGE_A, ORANGE_A), (WL_RED_A, GREEN_A), (WL_RED_A, RED_A)],
         gray=GRAY_A, black=BLACK_A, eg=ERR_GRAY_1, eb=ERR_BLACK_1),
    dict(spec=[(WL_BLUE_A, BLUE_B), (WL_ORANGE_A, ORANGE_B), (WL_RED_A, GREEN_B), (WL_RED_A, RED_B)],
         gray=GRAY_B, black=BLACK_B, eg=ERR_GRAY_2, eb=ERR_BLACK_2),
    dict(spec=[(WL_BLUE_C, BLUE_C), (WL_ORANGE_C, ORANGE_C), (WL_RED_C, GREEN_C), (WL_RED_C, RED_C)],
         gray=GRAY_C, black=BLACK_C, eg=ERR_GRAY_3, eb=ERR_BLACK_3),
    dict(spec=[(WL_BLUE_A, BLUE_A), (WL_ORANGE_A, ORANGE_A), (WL_RED_A, GREEN_A), (WL_RED_A, RED_A)],
         gray=GRAY_A, black=BLACK_A, eg=ERR_GRAY_4, eb=ERR_BLACK_4),
]

fig = go.Figure()
layout = {}
shapes = []
annotations = []

for p, pan in enumerate(PANELS):
    xa = "x" if p == 0 else f"x{p + 1}"
    yl = "y" if p == 0 else f"y{2 * p + 1}"
    yr = f"y{2 * p + 2}"
    xkey = "xaxis" if p == 0 else f"xaxis{p + 1}"
    ylkey = "yaxis" if p == 0 else f"yaxis{2 * p + 1}"
    yrkey = f"yaxis{2 * p + 2}"

    for i, (wl, vals) in enumerate(pan["spec"]):
        fig.add_trace(go.Scatter(x=wl, y=vals, mode="lines", xaxis=xa, yaxis=yl,
                                 line=dict(color=LINE_COLORS[i], width=1.7),
                                 name=SERIES_NAMES[i], showlegend=False, hoverinfo="skip"))
    for vals, err, col in [(pan["gray"], pan["eg"], GRAY), (pan["black"], pan["eb"], "black")]:
        fig.add_trace(go.Scatter(x=OBS_WL, y=vals, mode="lines+markers", xaxis=xa, yaxis=yl,
                                 line=dict(color=col, width=1.5, dash="dash"),
                                 marker=dict(color=col, size=8),
                                 error_y=dict(type="data", array=err, color=col, thickness=1.4, width=4),
                                 showlegend=False, hoverinfo="skip"))
    # carrier for the transit-depth axis
    fig.add_trace(go.Scatter(x=[1.0], y=[537.0], xaxis=xa, yaxis=yr, mode="markers",
                             marker=dict(opacity=0), showlegend=False, hoverinfo="skip"))

    dom_y = [1 - PANEL_BOT[p] / H, 1 - PANEL_TOP[p] / H]
    layout[xkey] = dict(type="log", range=X_RANGE, domain=[PLOT_L / W, PLOT_R / W], anchor=yl,
                        automargin=False,
                        tickvals=XTICK_VALS, ticktext=XTICK_TEXT, ticks="inside", ticklen=5,
                        tickcolor="black", showline=True, linecolor="black", linewidth=1.2,
                        mirror="ticks", showgrid=True, gridcolor=GRID, gridwidth=1, zeroline=False,
                        tickfont=dict(size=15, family=FONT, color="black"),
                        minor=dict(tickvals=XMINOR_VALS, ticks="inside", ticklen=3,
                                   tickcolor="black", showgrid=False))
    layout[ylkey] = dict(range=Y_RANGE, domain=dom_y, anchor=xa, automargin=False,
                         tickvals=YTICK_VALS,
                         ticktext=YTICK_TEXT, ticks="inside", ticklen=5, tickcolor="black",
                         showline=True, linecolor="black", linewidth=1.2, mirror=True,
                         showgrid=True, gridcolor=GRID, gridwidth=1, zeroline=False,
                         tickfont=dict(size=15, family=FONT, color="black"))
    layout[yrkey] = dict(range=PPM_RANGE, overlaying=yl, side="right", anchor=xa, automargin=False,
                         tickvals=PPM_TICKS, ticks="inside", ticklen=5, tickcolor="black",
                         showgrid=False, zeroline=False, showline=False,
                         tickfont=dict(size=15, family=FONT, color="black"))

    for (x0, x1), col in zip(BANDS, BAND_COLORS):
        shapes.append(dict(type="rect", xref=xa, yref=f"{yl} domain", x0=x0, x1=x1, y0=0, y1=1,
                           fillcolor=col, line=dict(width=0), layer="below"))

    for txt, wl, v in MOLECULES:
        annotations.append(dict(text=txt, x=np.log10(wl), y=v, xref=xa, yref=yl,
                                showarrow=True, arrowhead=0, arrowwidth=1, arrowcolor="black",
                                ax=11, ay=-22, standoff=0,
                                font=dict(size=11.5, family=FONT, color="black")))
    for txt, wl, v in INSTRUMENTS:
        annotations.append(dict(text=txt, x=np.log10(wl), y=v, xref=xa, yref=yl, showarrow=False,
                                xanchor="center", yanchor="middle",
                                font=dict(size=15, family=FONT, color="black")))

    annotations.append(dict(text="Wavelength (<i>μ</i>m)", x=0.5, y=-0.093, xref=f"{xa} domain",
                            yref=f"{yl} domain", showarrow=False, xanchor="center", yanchor="middle",
                            font=dict(size=19, family=FONT, color="black")))
    annotations.append(dict(text="R<sub><i>P</i></sub>/R<sub>⊕</sub>", x=-0.07, y=0.5,
                            xref=f"{xa} domain", yref=f"{yl} domain", showarrow=False,
                            xanchor="center", yanchor="middle",
                            textangle=-90, font=dict(size=19, family=FONT, color="black")))
    annotations.append(dict(text="Transit Depth (ppm)", x=1.0617, y=0.5, xref=f"{xa} domain",
                            yref=f"{yl} domain", showarrow=False, textangle=90,
                            xanchor="center", yanchor="middle",
                            font=dict(size=19, family=FONT, color="black")))

# ---------------- legend (drawn in figure coordinates, first panel) ----------------
def px(x):
    return x / W


def py(y):
    return 1 - y / H


for i, yc in enumerate(LEG_LINE_ROWS):
    shapes.append(dict(type="line", xref="paper", yref="paper", x0=px(LEG_LINE_X[0]),
                       x1=px(LEG_LINE_X[1]), y0=py(yc), y1=py(yc),
                       line=dict(color=LINE_COLORS[i], width=1.7)))
    annotations.append(dict(text=SERIES_NAMES[i], x=px(LEG_TEXT_X), y=py(yc), xref="paper",
                            yref="paper", xanchor="left", yanchor="middle", showarrow=False,
                            font=dict(size=15, family=FONT, color="black")))

for lines, rows, ym, col in zip(OBS_NAMES, LEG_OBS_TEXT_ROWS, LEG_OBS_MARK_Y, [GRAY, "black"]):
    for txt, yc in zip(lines, rows):
        annotations.append(dict(text=txt, x=px(LEG_TEXT_X), y=py(yc), xref="paper",
                                yref="paper", xanchor="left", yanchor="middle", showarrow=False,
                                font=dict(size=15, family=FONT, color="black")))
    shapes.append(dict(type="line", xref="paper", yref="paper", x0=px(LEG_MARK_X),
                       x1=px(LEG_MARK_X), y0=py(ym - 8), y1=py(ym + 8),
                       line=dict(color=col, width=1.4)))
    for cap in (ym - 8, ym + 8):
        shapes.append(dict(type="line", xref="paper", yref="paper", x0=px(LEG_MARK_X - 4),
                           x1=px(LEG_MARK_X + 4), y0=py(cap), y1=py(cap),
                           line=dict(color=col, width=1.4)))
    shapes.append(dict(type="circle", xref="paper", yref="paper", x0=px(LEG_MARK_X - 4),
                       x1=px(LEG_MARK_X + 4), y0=py(ym + 4), y1=py(ym - 4),
                       fillcolor=col, line=dict(color=col, width=1)))

fig.update_layout(width=W, height=H, margin=dict(l=0, r=0, t=0, b=0, autoexpand=False),
                  paper_bgcolor="white", plot_bgcolor="white",
                  font=dict(family=FONT, color="black"), showlegend=False,
                  shapes=shapes, annotations=annotations,
                  **layout)

fig.write_html("out.html")
